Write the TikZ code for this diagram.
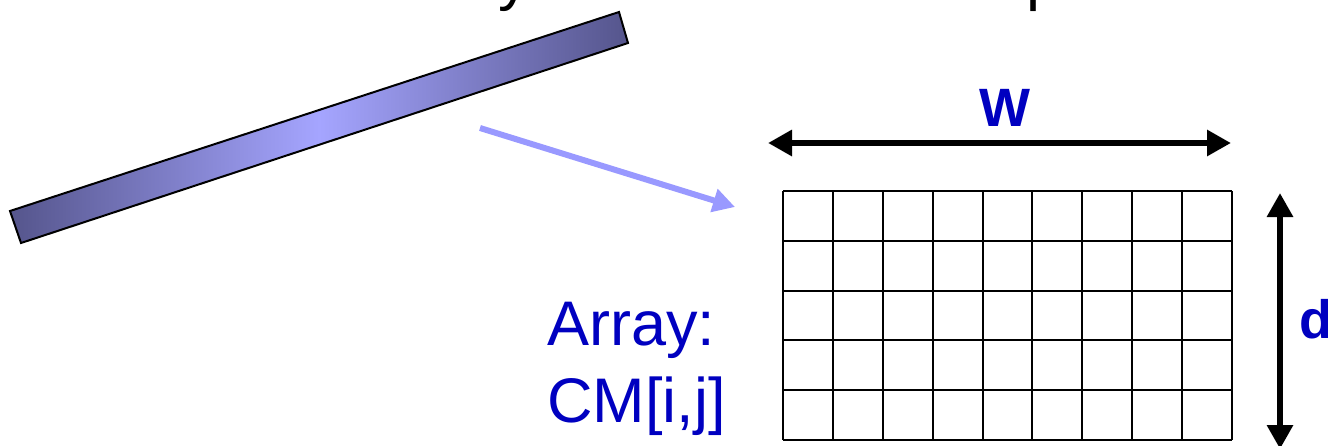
\documentclass[tikz,border=0pt]{standalone}
\usepackage{fontspec}
\setmainfont{Liberation Sans}
\usetikzlibrary{arrows.meta}
\definecolor{lblue}{RGB}{153,153,255}
\definecolor{tblue}{RGB}{0,0,192}
\definecolor{bardark}{RGB}{85,85,140}
\definecolor{barlight}{RGB}{165,165,255}
\tikzset{
  toptext/.style={anchor=base west, inner sep=0, font=\fontsize{63}{63}\selectfont},
  bluetext/.style={anchor=base west, inner sep=0, text=tblue, font=\fontsize{63}{77}\selectfont},
  dimlabel/.style={inner sep=0, text=tblue, font=\fontsize{54}{54}\selectfont\bfseries},
  gridline/.style={line width=2pt, black},
  dimarrow/.style={line width=6.5pt, black, {Triangle[length=24pt,width=25pt]}-{Triangle[length=24pt,width=25pt]}},
  maparrow/.style={line width=6pt, lblue, -{Triangle[length=22pt,width=23pt]}}
}
\begin{document}
\begin{tikzpicture}[x=1pt,y=-1pt]
\useasboundingbox (0,0) rectangle (1328,445);
\clip (0,0) rectangle (1328,445);
% cut-off title text
\node[toptext] (ty) at (498,-2) {y};
\node[toptext] (tp) at (1026,-2) {p};
% slanted bar
\draw[line width=2pt, left color=bardark, right color=bardark, middle color=barlight]
  (10,211) -- (21,243) -- (628,43) -- (619,12) -- cycle;
\coordinate (bar) at (480,128);
% grid
\node[inner sep=0, minimum width=449pt, minimum height=249pt] (grid) at (1007.5,315.5) {};
\foreach \i in {0,...,9} \draw[gridline] ({783+\i*49.89},191) -- ({783+\i*49.89},440);
\foreach \j in {0,...,5} \draw[gridline] (783,{191+\j*49.8}) -- (1232,{191+\j*49.8});
% mapping arrow
\coordinate (gridin) at (735,207);
\draw[maparrow] (bar) -- (gridin);
% dimension arrows
\coordinate (wl) at (768,143);
\coordinate (wr) at (1231,143);
\draw[dimarrow] (wl) -- (wr);
\node[dimlabel] (W) at (1005,108) {W};
\coordinate (dt) at (1280,193);
\coordinate (db) at (1280,449);
\draw[dimarrow] (dt) -- (db);
\node[dimlabel, anchor=base west] (d) at (1299,338) {d};
% array label
\node[bluetext] (arr) at (547,345) {Array:};
\node[bluetext] (cm) at (547,422) {CM[i,j]};
\end{tikzpicture}
\end{document}
